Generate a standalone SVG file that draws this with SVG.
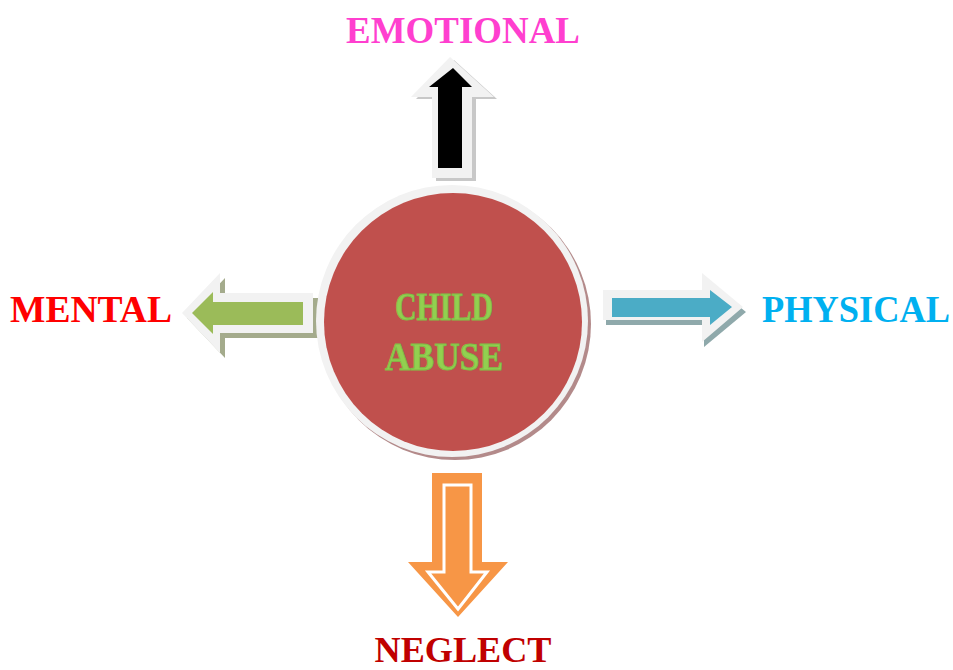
<svg xmlns="http://www.w3.org/2000/svg" width="953" height="670" viewBox="0 0 953 670">
<style>
.lbl{font-family:"Liberation Serif","Times New Roman",serif;font-weight:bold;font-size:37px;text-anchor:middle}
.ctr{font-family:"Liberation Serif","DejaVu Serif",serif;font-weight:bold;font-size:41px;fill:#92d050;stroke:#7fbf45;stroke-width:1;text-anchor:middle}
.frame{fill:#f2f2f2}
</style>
<rect width="953" height="670" fill="#ffffff"/>
<g id="connectors">
  <g id="arrow-up">
    <polygon points="454,60 497,99 476,99 476,181 436,181 436,99 416,99" fill="#c8c8c8"/>
    <polygon points="450,57 494,97 472,97 472,178 432,178 432,97 411,97" class="frame"/>
    <polygon points="453,68 472,87 462,87 462,168 438,168 438,87 429,87" fill="#000000"/>
  </g>
  <g id="arrow-left">
    <polygon points="187,318 225,278 225,298 318,298 318,338 225,338 225,358" fill="#a4ab8c"/>
    <polygon points="182,313 220,273 220,293 313,293 313,333 220,333 220,353" class="frame"/>
    <polygon points="192,313 213,292 213,302 303,302 303,325 213,325 213,334" fill="#9bbb59"/>
  </g>
  <g id="arrow-right">
    <polygon points="606,295 704,295 704,278 746,312 704,347 704,325 606,325" fill="#8fa9ab"/>
    <polygon points="603,290 702,290 702,273 743,307 702,342 702,320 603,320" class="frame"/>
    <polygon points="612,298 710,298 710,290 732,307 710,325 710,317 612,317" fill="#4bacc6"/>
  </g>
  <g id="arrow-down">
    <polygon points="432,473 482,473 482,562 508,562 458,617 408,562 432,562" fill="#f79646"/>
    <polygon points="444,485 471,485 471,572 487,572 458,609 428,572 444,572" fill="#f79646" stroke="#ffffff" stroke-width="3" stroke-linejoin="miter"/>
  </g>
</g>
<g id="node-center">
  <circle cx="455" cy="324" r="136" fill="#b38a8a"/>
  <circle cx="452" cy="321" r="136" class="frame"/>
  <circle cx="453" cy="322" r="129" fill="#c0504d"/>
  <text class="ctr" x="444" y="320" textLength="98" lengthAdjust="spacingAndGlyphs">CHILD</text>
  <text class="ctr" x="444" y="370" textLength="118" lengthAdjust="spacingAndGlyphs">ABUSE</text>
</g>
<g id="node-emotional"><text class="lbl" x="463" y="43" fill="#ff3fcf" textLength="234" lengthAdjust="spacingAndGlyphs">EMOTIONAL</text></g>
<g id="node-mental"><text class="lbl" x="91" y="322" fill="#ff0000" textLength="162" lengthAdjust="spacingAndGlyphs">MENTAL</text></g>
<g id="node-physical"><text class="lbl" x="856" y="322" fill="#00b0f0" textLength="188" lengthAdjust="spacingAndGlyphs">PHYSICAL</text></g>
<g id="node-neglect"><text class="lbl" x="463" y="662" fill="#c00000" style="font-size:35px" textLength="177" lengthAdjust="spacingAndGlyphs">NEGLECT</text></g>
</svg>
